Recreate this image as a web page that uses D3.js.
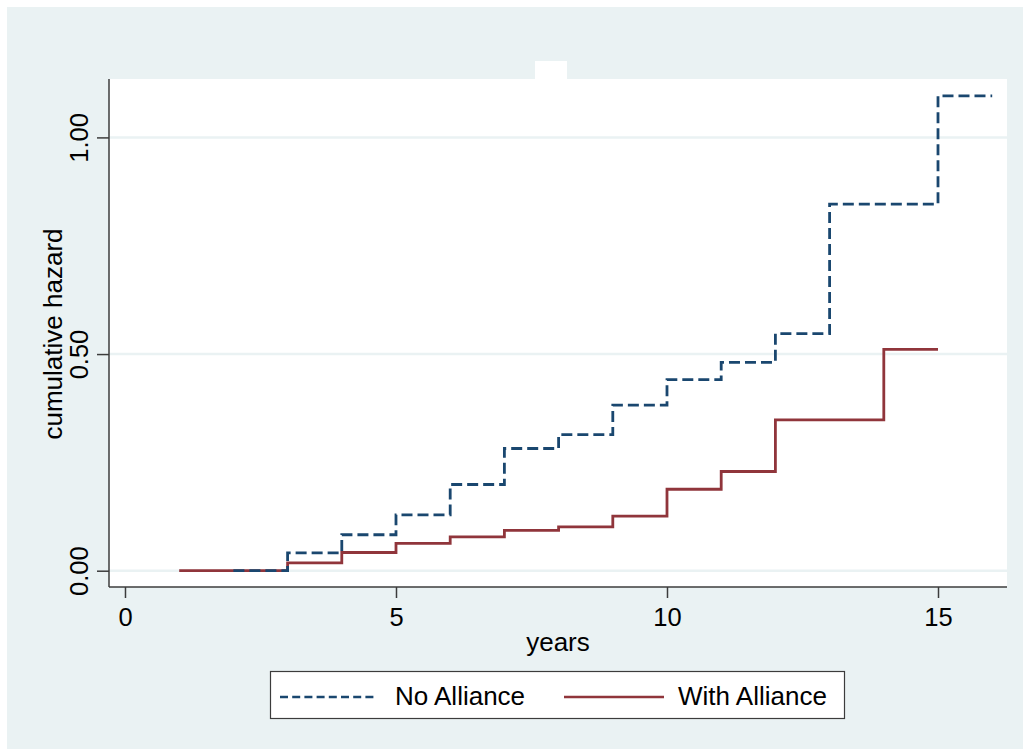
<!DOCTYPE html>
<html>
<head>
<meta charset="utf-8">
<script src="https://cdn.jsdelivr.net/npm/d3@7"></script>
<style>
  html, body { margin: 0; padding: 0; background: #ffffff; }
  svg { display: block; font-family: "Liberation Sans", Arial, Helvetica, sans-serif; }
</style>
</head>
<body>
<svg id="chart" width="1023" height="749"></svg>
<script>
// Nelson–Aalen cumulative hazard estimates by group
const noAllianceYears  = [2, 3, 4, 5, 6, 7, 8, 9, 10, 11, 12, 13, 15, 16];
const noAllianceHazard = [0, 0.041, 0.083, 0.129, 0.199, 0.282, 0.314, 0.382, 0.441, 0.481, 0.547, 0.846, 1.096, 1.096];

const withAllianceYears  = [1, 3, 4, 5, 6, 7, 8, 9, 10, 11, 12, 14, 15];
const withAllianceHazard = [0, 0.018, 0.042, 0.063, 0.078, 0.093, 0.101, 0.126, 0.188, 0.229, 0.348, 0.511, 0.511];

const xTicks = [0, 5, 10, 15];
const yTicks = [0, 0.5, 1.0];
const seriesNames = ["No Alliance", "With Alliance"];

const svg = d3.select("#chart");
const W = 1023, H = 749;
const plot = { left: 109, right: 1007, top: 79, bottom: 587 };

const x = d3.scaleLinear().domain([-0.295, 16.273]).range([plot.left, plot.right]);
const y = d3.scaleLinear().domain([-0.0376, 1.1348]).range([plot.bottom, plot.top]);

const bg = "#eaf2f3";
const navy = "#1a476f";
const maroon = "#90353b";
const axisColor = "#3c3c3c";

// graph region
svg.append("rect").attr("x", 7).attr("y", 7).attr("width", W - 7).attr("height", H - 7).attr("fill", bg);
// plot region
svg.append("rect").attr("x", plot.left).attr("y", plot.top)
  .attr("width", plot.right - plot.left).attr("height", plot.bottom - plot.top).attr("fill", "#ffffff");
// empty title box
svg.append("rect").attr("x", 535).attr("y", 61).attr("width", 32).attr("height", 18).attr("fill", "#ffffff");

// horizontal grid
svg.append("g").selectAll("line").data(yTicks).join("line")
  .attr("x1", plot.left).attr("x2", plot.right)
  .attr("y1", d => y(d)).attr("y2", d => y(d))
  .attr("stroke", bg).attr("stroke-width", 2.5);

// axes
const yAxis = d3.axisLeft(y).tickValues(yTicks).tickFormat(d3.format(".2f")).tickSize(12).tickPadding(0);
const gy = svg.append("g").attr("transform", `translate(${plot.left},0)`).call(yAxis);
gy.select(".domain").attr("stroke", axisColor).attr("stroke-width", 1.5)
  .attr("d", `M0,${plot.top}V${plot.bottom}`);
gy.selectAll(".tick line").attr("stroke", axisColor).attr("stroke-width", 1.5);
gy.selectAll(".tick text")
  .attr("x", null).attr("dy", null)
  .attr("transform", "translate(-21,0) rotate(-90)")
  .attr("text-anchor", "middle")
  .attr("fill", "#000").attr("font-size", 25.5)
  .attr("font-family", "Liberation Sans, Arial, sans-serif");

const xAxis = d3.axisBottom(x).tickValues(xTicks).tickFormat(d3.format("d")).tickSize(11).tickPadding(0);
const gx = svg.append("g").attr("transform", `translate(0,${plot.bottom})`).call(xAxis);
gx.select(".domain").attr("stroke", axisColor).attr("stroke-width", 1.5)
  .attr("d", `M${plot.left},0H${plot.right}`);
gx.selectAll(".tick line").attr("stroke", axisColor).attr("stroke-width", 1.5);
gx.selectAll(".tick text")
  .attr("y", 39).attr("dy", null)
  .attr("fill", "#000").attr("font-size", 25.5)
  .attr("font-family", "Liberation Sans, Arial, sans-serif");

// axis titles
svg.append("text").attr("transform", "translate(62,334) rotate(-90)")
  .attr("text-anchor", "middle").attr("font-size", 26).attr("fill", "#000")
  .text("cumulative hazard");
svg.append("text").attr("x", 558).attr("y", 651)
  .attr("text-anchor", "middle").attr("font-size", 26).attr("fill", "#000")
  .text("years");

// step curves
const line = d3.line().x(d => x(d[0])).y(d => y(d[1])).curve(d3.curveStepAfter);
const noAlliance = d3.zip(noAllianceYears, noAllianceHazard);
const withAlliance = d3.zip(withAllianceYears, withAllianceHazard);

svg.append("path").datum(withAlliance).attr("d", line)
  .attr("fill", "none").attr("stroke", maroon).attr("stroke-width", 2.8);
svg.append("path").datum(noAlliance).attr("d", line)
  .attr("fill", "none").attr("stroke", navy).attr("stroke-width", 2.8)
  .attr("stroke-dasharray", "11,5");

// legend
const lg = svg.append("g");
lg.append("rect").attr("x", 270.5).attr("y", 671.5).attr("width", 574).attr("height", 47)
  .attr("fill", "#fff").attr("stroke", axisColor).attr("stroke-width", 1.2);
const legendItems = [
  { name: seriesNames[0], color: navy, dash: "8,4.2", x1: 280, x2: 377, tx: 395 },
  { name: seriesNames[1], color: maroon, dash: null, x1: 564, x2: 664, tx: 678 }
];
legendItems.forEach(it => {
  lg.append("line").attr("x1", it.x1).attr("x2", it.x2).attr("y1", 697).attr("y2", 697)
    .attr("stroke", it.color).attr("stroke-width", 2.6)
    .attr("stroke-dasharray", it.dash);
  lg.append("text").attr("x", it.tx).attr("y", 705).attr("font-size", 26).attr("fill", "#000")
    .text(it.name);
});
</script>
</body>
</html>
